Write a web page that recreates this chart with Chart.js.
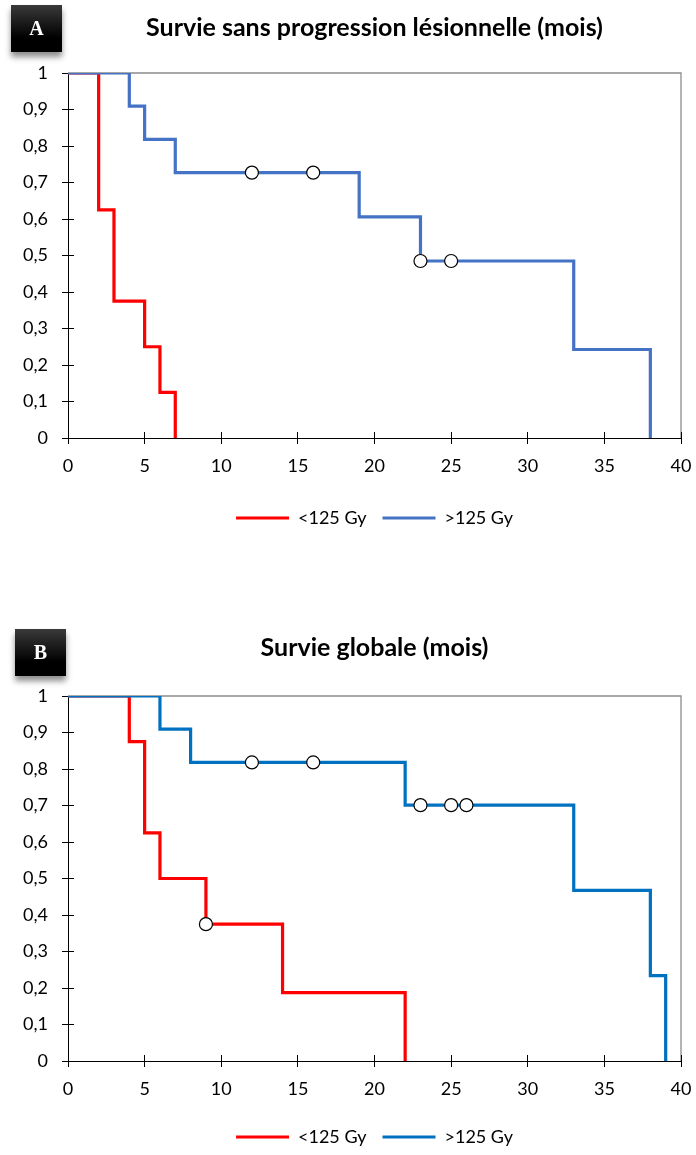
<!DOCTYPE html>
<html>
<head>
<meta charset="utf-8">
<script src="https://cdn.jsdelivr.net/npm/chart.js@4.4.1/dist/chart.umd.min.js"></script>
<style>
body { margin: 0; background: #fff; width: 696px; height: 1155px; position: relative; overflow: hidden; }
canvas { position: absolute; left: 0; }
#chartA { top: 0; }
#chartB { top: 622px; }
.tag {
    position: absolute; width: 51px; height: 47px;
    background: linear-gradient(#3a3a3a, #000 70%);
    color: #fff; font: bold 20px "Liberation Serif", serif;
    display: flex; align-items: center; justify-content: center;
    box-shadow: 0 5px 6px rgba(0, 0, 0, 0.45);
}
</style>
</head>
<body>
<canvas id="chartA" width="696" height="560"></canvas>
<canvas id="chartB" width="696" height="534"></canvas>
<div class="tag" style="left:11px;top:5px">A</div>
<div class="tag" style="left:15px;top:629px">B</div>
<script>
// groups
const groupNames = ['<125 Gy', '>125 Gy']

// A - survie sans progression lesionnelle
const pfsLowTimes = [0, 2, 3, 5, 6, 7]
const pfsLowSurv = [1, 0.625, 0.375, 0.25, 0.125, 0]
const pfsLowCensor = []
const pfsHighTimes = [0, 4, 5, 7, 19, 23, 33, 38]
const pfsHighSurv = [1, 0.909, 0.818, 0.727, 0.606, 0.485, 0.2425, 0]
const pfsHighCensor = [12, 16, 23, 25]

// B - survie globale
const osLowTimes = [0, 4, 5, 6, 9, 14, 22]
const osLowSurv = [1, 0.875, 0.625, 0.5, 0.375, 0.1875, 0]
const osLowCensor = [9]
const osHighTimes = [0, 6, 8, 22, 33, 38, 39]
const osHighSurv = [1, 0.909, 0.818, 0.701, 0.4675, 0.234, 0]
const osHighCensor = [12, 16, 23, 25, 26]

// axes
const xMax = 40
const xStep = 5
const yStep = 0.1

const labelFont = { family: 'Lato', size: 18 }

const commaLabel = v => (v === 0 || v === 1) ? String(v) : v.toFixed(1).replace('.', ',')

const survAt = (times, surv, t) => {
    let v = surv[0]
    times.forEach((tt, i) => { if (tt <= t) v = surv[i] })
    return v
}

const curve = (label, times, surv, color, order) => ({
    type: 'line',
    label: label,
    data: times.map((t, i) => ({ x: t, y: surv[i] })),
    stepped: true,
    borderColor: color,
    backgroundColor: color,
    borderWidth: 3.2,
    pointRadius: 0,
    pointHoverRadius: 0,
    fill: false,
    order: order,
})

const censorSet = (times, surv, cens) => ({
    type: 'scatter',
    label: 'censure',
    data: cens.map(t => ({ x: t, y: survAt(times, surv, t) })),
    pointRadius: 6.5,
    pointBackgroundColor: '#fff',
    pointBorderColor: '#000',
    pointBorderWidth: 1.2,
    showLine: false,
    order: 0,
})

const alignPx = p => Math.round(p - 0.5) + 0.5

// gray top/right border + inner half of the tick marks
const frame = {
    id: 'frame',
    beforeDatasetsDraw(chart) {
        const { ctx, chartArea: a, scales: { x, y } } = chart
        ctx.save()
        ctx.strokeStyle = '#8c8c8c'
        ctx.lineWidth = 1.3
        ctx.beginPath()
        ctx.moveTo(a.left, a.top)
        ctx.lineTo(a.right, a.top)
        ctx.lineTo(a.right, a.bottom)
        ctx.stroke()
        ctx.strokeStyle = '#000'
        ctx.lineWidth = 1
        ctx.beginPath()
        y.ticks.forEach(t => {
            const p = alignPx(y.getPixelForValue(t.value))
            ctx.moveTo(a.left, p)
            ctx.lineTo(a.left + 6, p)
        })
        x.ticks.forEach(t => {
            const p = alignPx(x.getPixelForValue(t.value))
            ctx.moveTo(p, a.bottom)
            ctx.lineTo(p, a.bottom - 6)
        })
        ctx.stroke()
        ctx.restore()
    }
}

const makeChart = (id, title, datasets, lay) => new Chart(document.getElementById(id), {
    data: { datasets: datasets },
    plugins: [frame],
    options: {
        responsive: false,
        animation: false,
        devicePixelRatio: 1,
        layout: { padding: { left: 0, right: 15, top: 0, bottom: lay.bottomPad } },
        plugins: {
            title: {
                display: true,
                fullSize: false,
                text: title,
                color: '#000',
                font: { family: 'Lato', size: 25, weight: 'bold' },
                padding: { top: lay.titleTop, bottom: lay.titleBottom },
            },
            legend: {
                position: 'bottom',
                fullSize: false,
                labels: {
                    boxWidth: 53,
                    boxHeight: 3,
                    padding: 16,
                    color: '#000',
                    font: { family: 'Lato', size: 18 },
                    filter: item => item.datasetIndex < 2,
                    sort: (a, b) => a.datasetIndex - b.datasetIndex,
                    generateLabels: chart => Chart.defaults.plugins.legend.labels.generateLabels(chart)
                        .map(item => Object.assign(item, { lineWidth: 0 })),
                },
            },
            tooltip: { enabled: false },
        },
        scales: {
            x: {
                type: 'linear',
                min: 0,
                max: xMax,
                ticks: { stepSize: xStep, color: '#000', font: labelFont, padding: 11 },
                grid: { drawOnChartArea: false, tickLength: 6, color: '#000' },
                border: { color: '#000' },
                afterFit: s => {
                    s.height = lay.xHeight
                    s.paddingLeft = 0
                    s.paddingRight = 0
                },
            },
            y: {
                min: 0,
                max: 1,
                ticks: { stepSize: yStep, color: '#000', font: labelFont, padding: 14, callback: commaLabel },
                grid: { drawOnChartArea: false, tickLength: 6, color: '#000' },
                border: { color: '#000' },
                afterFit: s => { s.width = 68 },
            },
        },
    },
})

makeChart('chartA', 'Survie sans progression lésionnelle (mois)', [
    curve(groupNames[0], pfsLowTimes, pfsLowSurv, '#ff0000', 2),
    curve(groupNames[1], pfsHighTimes, pfsHighSurv, '#4472c4', 1),
    censorSet(pfsLowTimes, pfsLowSurv, pfsLowCensor),
    censorSet(pfsHighTimes, pfsHighSurv, pfsHighCensor),
], { titleTop: 13, titleBottom: 30, xHeight: 55, bottomPad: 23 })

makeChart('chartB', 'Survie globale (mois)', [
    curve(groupNames[0], osLowTimes, osLowSurv, '#ff0000', 2),
    curve(groupNames[1], osHighTimes, osHighSurv, '#0070c0', 1),
    censorSet(osLowTimes, osLowSurv, osLowCensor),
    censorSet(osHighTimes, osHighSurv, osHighCensor),
], { titleTop: 11, titleBottom: 33, xHeight: 51, bottomPad: 0 })
</script>
</body>
</html>
